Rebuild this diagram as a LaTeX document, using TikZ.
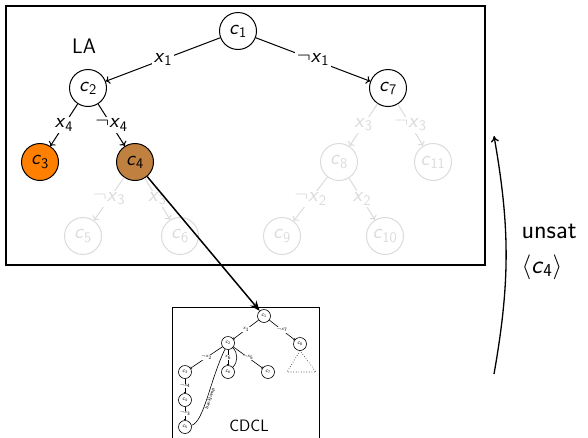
\documentclass[tikz,border=0pt]{standalone}
\usetikzlibrary{arrows.meta}
\renewcommand\familydefault{\sfdefault}
% literal: italic letter with an upright index
\newcommand\lit[2]{\textit{#1}\textsubscript{#2}}
\newcommand\nlit[2]{$\neg$\lit{#1}{#2}}
\tikzset{
  big/.style={font=\fontsize{21}{24}\selectfont},
  cnode/.style={circle, draw, line width=1pt, minimum size=37pt, inner sep=0pt, big},
  elabel/.style={fill=white, inner sep=1.5pt, big},
  tedge/.style={line width=1pt, -{To[length=4pt,width=8pt]}},
  faded/.style={black!14},
  snode/.style={circle, draw, line width=0.6pt, minimum size=13pt, inner sep=0pt, font=\fontsize{5.5}{6}\selectfont},
  slabel/.style={fill=white, inner sep=0.6pt, font=\fontsize{5}{6}\selectfont},
  sedge/.style={line width=0.6pt, -{To[length=1.2pt,width=2.5pt]}},
}
\begin{document}
\begin{tikzpicture}[x=1pt,y=-1pt]
\useasboundingbox (0,0) rectangle (588,437);

% look-ahead tree
\draw[line width=1.2pt] (6,6) rectangle (485,265);
\node[big] (la) at (84,46) {LA};

\node[cnode] (c1) at (238,31) {\lit{c}{1}};
\node[cnode] (c2) at (88,88) {\lit{c}{2}};
\node[cnode] (c7) at (388,88) {\lit{c}{7}};
\node[cnode, fill={rgb,255:red,255;green,128;blue,0}] (c3) at (40,162) {\lit{c}{3}};
\node[cnode, fill={rgb,255:red,192;green,128;blue,64}] (c4) at (135,162) {\lit{c}{4}};
\begin{scope}[faded]
\node[cnode] (c8) at (339,162) {\lit{c}{8}};
\node[cnode] (c11) at (433,162) {\lit{c}{11}};
\node[cnode] (c5) at (83,236) {\lit{c}{5}};
\node[cnode] (c6) at (180,236) {\lit{c}{6}};
\node[cnode] (c9) at (282,236) {\lit{c}{9}};
\node[cnode] (c10) at (385,236) {\lit{c}{10}};
\end{scope}

\draw[tedge] (c1) -- node[elabel] {\lit{x}{1}} (c2);
\draw[tedge] (c1) -- node[elabel] {\nlit{x}{1}} (c7);
\draw[tedge] (c2) -- node[elabel] {\lit{x}{4}} (c3);
\draw[tedge] (c2) -- node[elabel] {\nlit{x}{4}} (c4);
\begin{scope}[faded]
\draw[tedge] (c4) -- node[elabel] {\nlit{x}{3}} (c5);
\draw[tedge] (c4) -- node[elabel] {\lit{x}{3}} (c6);
\draw[tedge] (c7) -- node[elabel] {\lit{x}{3}} (c8);
\draw[tedge] (c7) -- node[elabel] {\nlit{x}{3}} (c11);
\draw[tedge] (c8) -- node[elabel] {\nlit{x}{2}} (c9);
\draw[tedge] (c8) -- node[elabel] {\lit{x}{2}} (c10);
\end{scope}

% CDCL search tree
\draw[line width=0.8pt] (172,440) |- (319,307) -- (319,440);
\node[font=\fontsize{16.5}{19}\selectfont] (cdcl) at (249,426) {CDCL};

\node[snode] (s1) at (264,316) {\lit{c}{1}};
\node[snode] (s2) at (228,343) {\lit{c}{2}};
\node[snode] (s8) at (300,344) {\lit{c}{8}};
\node[snode] (s3) at (185,372) {\lit{c}{3}};
\node[snode] (s6) at (228,372) {\lit{c}{6}};
\node[snode] (s7) at (268,372) {\lit{c}{7}};
\node[snode] (s4) at (185,400) {\lit{c}{4}};
\node[snode] (s5) at (185,427) {\lit{c}{5}};

\draw[sedge] (s1) -- node[slabel] {\lit{x}{1}} (s2);
\draw[sedge] (s1) -- node[slabel] {\nlit{x}{7}} (s8);
\draw[sedge] (s2) -- node[slabel] {\nlit{x}{2}} (s3);
\draw[sedge] (s2) -- node[slabel] {\lit{x}{6}} (s6);
\draw[sedge] (s2) -- node[slabel] {\nlit{x}{5}} (s7);
\draw[sedge] (s3) -- node[slabel] {\nlit{x}{4}} (s4);
\draw[sedge] (s4) -- node[slabel] {\nlit{x}{3}} (s5);
\draw[line width=0.6pt] (s2) to[bend left=45] (s6);
\draw[line width=0.6pt] (s5) .. controls (204,422) and (210,380) .. node[pos=0.5, sloped, below, inner sep=0.5pt, font=\fontsize{5}{6}\selectfont] {backjump} (s2);

\coordinate (tl) at (287,372);
\coordinate (tr) at (316,372);
\draw[dotted, line width=0.6pt] (s8.south) -- (tl) -- (tr) -- cycle;

% hand-over from LA to CDCL
\draw[line width=1.5pt, -{Stealth[length=10pt,width=8pt]}] (c4) -- (s1);

% unsat result returned upwards
\coordinate (ub) at (494,374);
\coordinate (ut) at (494,136);
\draw[line width=1.3pt, -{To[length=6pt,width=8pt]}] (ub) to[bend right=10] (ut);
\node[anchor=base west, font=\fontsize{26}{30}\selectfont] (unsat) at (518,238) {unsat};
\node[anchor=base west, font=\fontsize{26}{30}\selectfont] (core) at (518,273) {$\langle$\lit{c}{4}$\rangle$};
\end{tikzpicture}
\end{document}
